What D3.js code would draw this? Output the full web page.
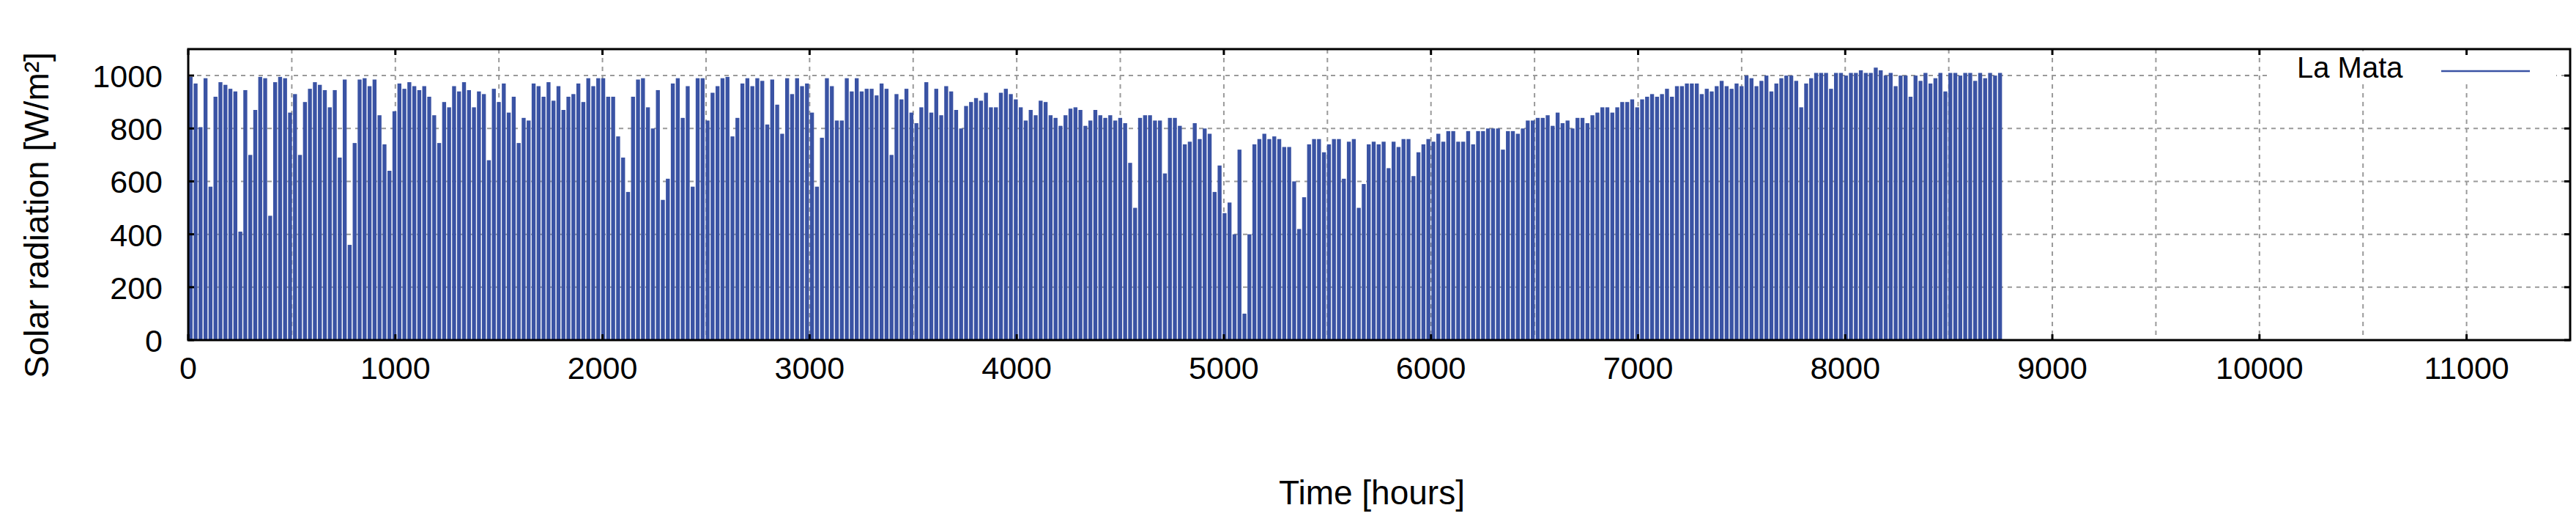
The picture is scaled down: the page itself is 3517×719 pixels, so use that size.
<!DOCTYPE html>
<html>
<head>
<meta charset="utf-8">
<script src="https://cdn.jsdelivr.net/npm/d3@7"></script>
<style>
  body { margin: 0; background: #fff; }
  text { font-family: "Liberation Sans", Arial, sans-serif; }
</style>
</head>
<body>
<svg id="chart" width="3517" height="719"></svg>
<script>
// daily peak solar radiation (W/m2), one value per day
const peaksJanFeb = [995,970,805,990,580,920,975,965,950,940,410,945,700,870,995,990,470,975,995,990,860,930,700,900,950,975,965,945,880,945,690,985,360,745,985,990,960,985,850,740,640,865,970,950,975,960];
const peaksFebApr = [945,960,920,850,745,900,880,960,940,975,945,880,940,930,680,950,900,970,860,920,745,840,830,970,960,920,975,905,960,870,920,930,970,900,990,960,990,990,920,920,770,690,560,920,985,990];
const peaksAprMay = [880,800,945,530,610,970,990,840,960,580,990,990,830,935,960,990,995,770,840,970,990,960,990,980,815,985,890,780,990,930,990,960,970,860,580,765,990,960,830,830,990,940,990,940,950,950];
const peaksMayJul = [925,970,950,700,930,910,950,860,820,880,975,860,950,850,960,940,870,800,885,900,915,905,935,880,880,935,950,930,910,880,830,870,850,905,900,850,840,810,850,875,880,870,810,830,870,850];
const peaksJulAug = [840,850,830,840,820,670,500,840,850,850,830,830,630,840,840,810,740,750,820,760,800,780,560,660,480,520,400,720,100,400,740,760,780,760,770,760,730,730,600,420,540,740,760,760,710,740];
const peaksAugOct = [760,760,610,750,760,500,590,740,750,740,750,650,750,730,760,760,620,710,740,760,750,780,750,790,790,750,750,790,740,790,790,800,800,800,720,790,790,780,800,830,830,840,840,850,810,860];
const peaksOctNov = [820,830,800,840,840,820,850,860,880,880,860,880,900,900,910,880,910,920,930,920,930,950,920,960,960,970,970,970,930,950,940,960,980,960,950,970,960,1000,990,960,980,1000,940,970,990,1000];
const peaksNovDec = [1000,980,880,970,990,1010,1010,1010,950,1010,1010,1000,1010,1010,1020,1010,1010,1030,1020,1000,1010,960,1000,1000,920,1000,980,1010,970,990,1010,940,1010,1010,1000,1010,1010,980,1010,990,1010,1000,1010];

const xTicks = [0,1000,2000,3000,4000,5000,6000,7000,8000,9000,10000,11000];
const yTicks = [0,200,400,600,800,1000];
const seriesName = "La Mata";

const peaks = [].concat(peaksJanFeb, peaksFebApr, peaksAprMay, peaksMayJul,
  peaksJulAug, peaksAugOct, peaksOctNov, peaksNovDec);
const days = peaks.map((v, i) => ({ start: i * 24, value: v }));

const svg = d3.select("#chart");
const mLeft = 257, mRight = 3509, mTop = 67, mBottom = 464;

const x = d3.scaleLinear().domain([0, 11500]).range([mLeft, mRight]);
const y = d3.scaleLinear().domain([0, 1100]).range([mBottom, mTop]);

const grid = svg.append("g")
  .attr("stroke", "#9a9a9a")
  .attr("stroke-width", 2)
  .attr("stroke-dasharray", "6,6");

// dashed grid, every 500 h and 200 W/m2
grid.selectAll(".gx").data(d3.range(500, 11500, 500)).join("line")
  .attr("x1", d => x(d)).attr("x2", d => x(d))
  .attr("y1", mTop).attr("y2", mBottom);
grid.selectAll(".gy").data(yTicks.slice(1)).join("line")
  .attr("x1", mLeft).attr("x2", mRight)
  .attr("y1", d => y(d)).attr("y2", d => y(d));

// one column per day
svg.append("g").selectAll("rect").data(days).join("rect")
  .attr("x", d => x(d.start + 2))
  .attr("width", d => x(d.start + 21) - x(d.start + 2))
  .attr("y", d => y(d.value))
  .attr("height", d => y(0) - y(d.value))
  .attr("fill", "#3a53a4");

// legend
const lg = svg.append("g");
lg.append("rect").attr("x", 3100).attr("y", 70).attr("width", 390).attr("height", 42).attr("fill", "#fff");
lg.append("text").attr("x", 3136).attr("y", 106).attr("font-size", 40).text(seriesName);
lg.append("line").attr("x1", 3333).attr("x2", 3454).attr("y1", 97).attr("y2", 97)
  .attr("stroke", "#3a53a4").attr("stroke-width", 2.5);

// frame and inward ticks on all sides
svg.append("rect").attr("x", mLeft).attr("y", mTop)
  .attr("width", mRight - mLeft).attr("height", mBottom - mTop)
  .attr("fill", "none").attr("stroke", "#000").attr("stroke-width", 3);

const tickLen = 8;
const ticks = svg.append("g").attr("stroke", "#000").attr("stroke-width", 3);
xTicks.forEach(t => {
  ticks.append("line").attr("x1", x(t)).attr("x2", x(t)).attr("y1", mBottom).attr("y2", mBottom - tickLen);
  ticks.append("line").attr("x1", x(t)).attr("x2", x(t)).attr("y1", mTop).attr("y2", mTop + tickLen);
});
yTicks.forEach(t => {
  ticks.append("line").attr("x1", mLeft).attr("x2", mLeft + tickLen).attr("y1", y(t)).attr("y2", y(t));
  ticks.append("line").attr("x1", mRight).attr("x2", mRight - tickLen).attr("y1", y(t)).attr("y2", y(t));
});

svg.append("g").selectAll("text").data(xTicks).join("text")
  .attr("x", d => x(d)).attr("y", 517)
  .attr("text-anchor", "middle").attr("font-size", 43)
  .text(d => d);

svg.append("g").selectAll("text").data(yTicks).join("text")
  .attr("x", 222).attr("y", d => y(d) + 16)
  .attr("text-anchor", "end").attr("font-size", 43)
  .text(d => d);

svg.append("text")
  .attr("x", 1873).attr("y", 688)
  .attr("text-anchor", "middle").attr("font-size", 46)
  .text("Time [hours]");

svg.append("text")
  .attr("transform", "translate(66,516) rotate(-90)")
  .attr("text-anchor", "start").attr("font-size", 46)
  .text("Solar radiation [W/m\u00B2]");
</script>
</body>
</html>
